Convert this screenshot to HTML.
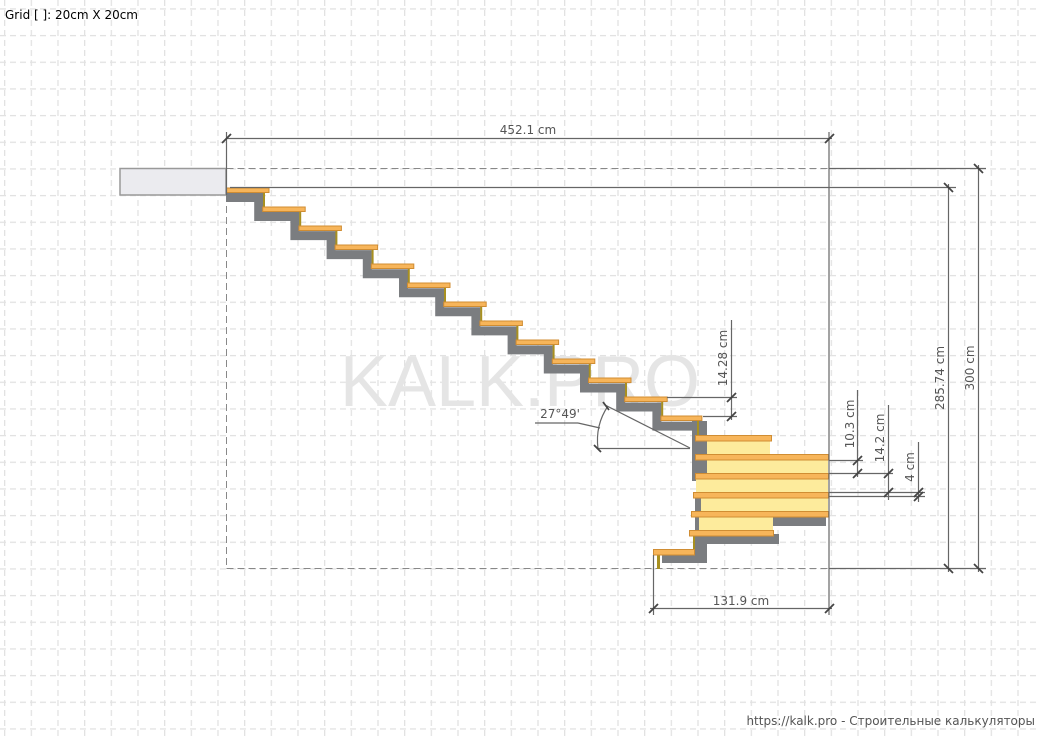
<!DOCTYPE html>
<html><head><meta charset="utf-8"><style>
html,body{margin:0;padding:0;background:#fff;}
svg{display:block;font-family:"DejaVu Sans","Liberation Sans",sans-serif;}
</style></head><body>
<svg width="1040" height="738" viewBox="0 0 1040 738" xmlns="http://www.w3.org/2000/svg">
<defs>
<pattern id="gv" x="4" y="0" width="26.667" height="10" patternUnits="userSpaceOnUse">
<rect x="0" y="0" width="1.3" height="6" fill="#e2e2e2"/>
</pattern>
<pattern id="gh" x="0" y="8.3" width="10" height="26.667" patternUnits="userSpaceOnUse">
<rect x="0" y="0" width="6" height="1.3" fill="#e2e2e2"/>
</pattern>
</defs>
<rect width="1040" height="738" fill="#fff"/>
<rect width="1040" height="738" fill="url(#gv)"/>
<rect width="1040" height="738" fill="url(#gh)"/>

<text x="520" y="406" text-anchor="middle" font-size="72" fill="#e5e5e5" font-family="Liberation Sans, sans-serif">KALK.PRO</text>

<text x="5" y="19" font-size="12" fill="#000">Grid [ ]: 20cm X 20cm</text>
<text x="1035" y="725" font-size="12" fill="#555" text-anchor="end">https://kalk.pro - Строительные калькуляторы</text>

<rect x="120" y="168.5" width="106" height="26.5" fill="#ebebef" stroke="#999" stroke-width="1.5"/>

<g stroke="#888" stroke-width="1" fill="none" stroke-dasharray="7,4">
<line x1="226.5" y1="168.5" x2="829" y2="168.5"/>
<line x1="226.5" y1="195" x2="226.5" y2="568.5"/>
<line x1="226.5" y1="568.5" x2="829" y2="568.5"/>
</g>

<path d="M226,197.5 H258.7 V216.55 H294.9 V235.6 H331.1 V254.65 H367.3 V273.7 H403.5 V292.75 H439.7 V311.8 H475.9 V330.85 H512.1 V349.9 H548.3 V368.95 H584.5 V388 H620.7 V407.05 H656.9 V426.1 H697" fill="none" stroke="#7b7d80" stroke-width="9" stroke-linejoin="miter"/>
<g fill="#7b7d80">
<rect x="692" y="421" width="15" height="60"/>
<rect x="695" y="498" width="6" height="35"/>
<rect x="773" y="516" width="53" height="10"/>
<rect x="695" y="534" width="84" height="10"/>
<rect x="695" y="534" width="12" height="29"/>
<rect x="662" y="554" width="45" height="9"/>
</g>

<g fill="#a89020">
<rect x="263" y="192" width="2" height="15"/>
<rect x="299.2" y="211" width="2" height="15"/>
<rect x="335.4" y="230" width="2" height="15"/>
<rect x="371.6" y="249" width="2" height="15"/>
<rect x="407.8" y="268" width="2" height="15"/>
<rect x="444" y="287" width="2" height="15"/>
<rect x="480.2" y="306" width="2" height="15"/>
<rect x="516.4" y="325" width="2" height="15"/>
<rect x="552.6" y="344" width="2" height="15"/>
<rect x="588.8" y="363" width="2" height="15"/>
<rect x="625" y="382" width="2" height="15"/>
<rect x="661.2" y="401" width="2" height="15"/>
<rect x="697" y="420" width="2" height="15"/>
<rect x="657" y="555" width="3" height="14"/>
<rect x="693" y="536" width="2" height="13"/>
</g>

<g fill="#fdeb9c">
<rect x="707" y="441" width="63" height="14"/>
<rect x="707" y="460" width="121" height="13"/>
<rect x="696" y="479" width="132" height="13"/>
<rect x="701" y="498" width="127" height="13"/>
<rect x="699" y="517" width="74" height="13"/>
</g>

<g fill="#f7b55a" stroke="#d08d33" stroke-width="1">
<rect x="226.5" y="188" width="42.5" height="4.5"/>
<rect x="262.7" y="207" width="42.5" height="4.5"/>
<rect x="298.9" y="226" width="42.5" height="4.5"/>
<rect x="335.1" y="245" width="42.5" height="4.5"/>
<rect x="371.3" y="264" width="42.5" height="4.5"/>
<rect x="407.5" y="283" width="42.5" height="4.5"/>
<rect x="443.7" y="302" width="42.5" height="4.5"/>
<rect x="479.9" y="321" width="42.5" height="4.5"/>
<rect x="516.1" y="340" width="42.5" height="4.5"/>
<rect x="552.3" y="359" width="42.5" height="4.5"/>
<rect x="588.5" y="378" width="42.5" height="4.5"/>
<rect x="624.7" y="397" width="42.5" height="4.5"/>
<rect x="660.9" y="416" width="41" height="4.5"/>
<rect x="695.5" y="435.5" width="76" height="5.5"/>
<rect x="695.5" y="454.5" width="133" height="5.5"/>
<rect x="695.5" y="473.5" width="133" height="5.5"/>
<rect x="693.5" y="492.5" width="135" height="5.5"/>
<rect x="691.5" y="511.5" width="137" height="5.5"/>
<rect x="689.5" y="530.5" width="84" height="5.5"/>
<rect x="653.5" y="549.5" width="41" height="5.5"/>
</g>

<g stroke="#666" stroke-width="1.2" fill="none">
<line x1="226.5" y1="132" x2="226.5" y2="195"/>
<line x1="226" y1="138.5" x2="832" y2="138.5"/>
<line x1="829" y1="132" x2="829" y2="615"/>
<line x1="829" y1="168.5" x2="986" y2="168.5"/>
<line x1="230" y1="187.5" x2="956" y2="187.5"/>
<line x1="829" y1="568.5" x2="986" y2="568.5"/>
<line x1="978.5" y1="165" x2="978.5" y2="572"/>
<line x1="948.5" y1="184" x2="948.5" y2="572"/>
<line x1="653.5" y1="555" x2="653.5" y2="615"/>
<line x1="650" y1="608.5" x2="832" y2="608.5"/>
<line x1="731.5" y1="320" x2="731.5" y2="420"/>
<line x1="667" y1="397.5" x2="737" y2="397.5"/>
<line x1="703" y1="416.5" x2="737" y2="416.5"/>
<line x1="857.5" y1="390" x2="857.5" y2="477"/>
<line x1="829" y1="460.5" x2="863" y2="460.5"/>
<line x1="829" y1="473.5" x2="893" y2="473.5"/>
<line x1="888.5" y1="405" x2="888.5" y2="500"/>
<line x1="829" y1="492.5" x2="925" y2="492.5"/>
<line x1="829" y1="496.5" x2="925" y2="496.5"/>
<line x1="918.5" y1="442" x2="918.5" y2="502"/>
<line x1="597" y1="448.5" x2="690" y2="448.5"/>
<line x1="605" y1="405" x2="690" y2="448"/>
<path d="M608,406 Q595,425 598,449"/>
<line x1="535" y1="423" x2="578" y2="423"/>
<line x1="578" y1="423" x2="600" y2="428"/>
</g>
<g stroke="#444" stroke-width="1.8">
<line x1="222" y1="143" x2="231" y2="134"/>
<line x1="825" y1="143" x2="834" y2="134"/>
<line x1="649" y1="613" x2="658" y2="604"/>
<line x1="825" y1="613" x2="834" y2="604"/>
<line x1="974" y1="164" x2="983" y2="173"/>
<line x1="974" y1="564" x2="983" y2="573"/>
<line x1="944" y1="183" x2="953" y2="192"/>
<line x1="944" y1="564" x2="953" y2="573"/>
<line x1="727" y1="402" x2="736" y2="393"/>
<line x1="727" y1="421" x2="736" y2="412"/>
<line x1="853" y1="465" x2="862" y2="456"/>
<line x1="853" y1="478" x2="862" y2="469"/>
<line x1="884" y1="478" x2="893" y2="469"/>
<line x1="884" y1="497" x2="893" y2="488"/>
<line x1="914" y1="497" x2="923" y2="488"/>
<line x1="914" y1="501" x2="923" y2="492"/>
<line x1="603" y1="402" x2="609" y2="410"/>
<line x1="594" y1="445" x2="601" y2="452"/>
</g>
<g font-size="12" fill="#555" text-anchor="middle">
<text x="528" y="134">452.1 cm</text>
<text x="741" y="605">131.9 cm</text>
<text x="560" y="418">27°49'</text>
<text transform="translate(727,358) rotate(-90)">14.28 cm</text>
<text transform="translate(854,424) rotate(-90)">10.3 cm</text>
<text transform="translate(884,438) rotate(-90)">14.2 cm</text>
<text transform="translate(914,467) rotate(-90)">4 cm</text>
<text transform="translate(944,378) rotate(-90)">285.74 cm</text>
<text transform="translate(974,368) rotate(-90)">300 cm</text>
</g>
</svg>
</body></html>
